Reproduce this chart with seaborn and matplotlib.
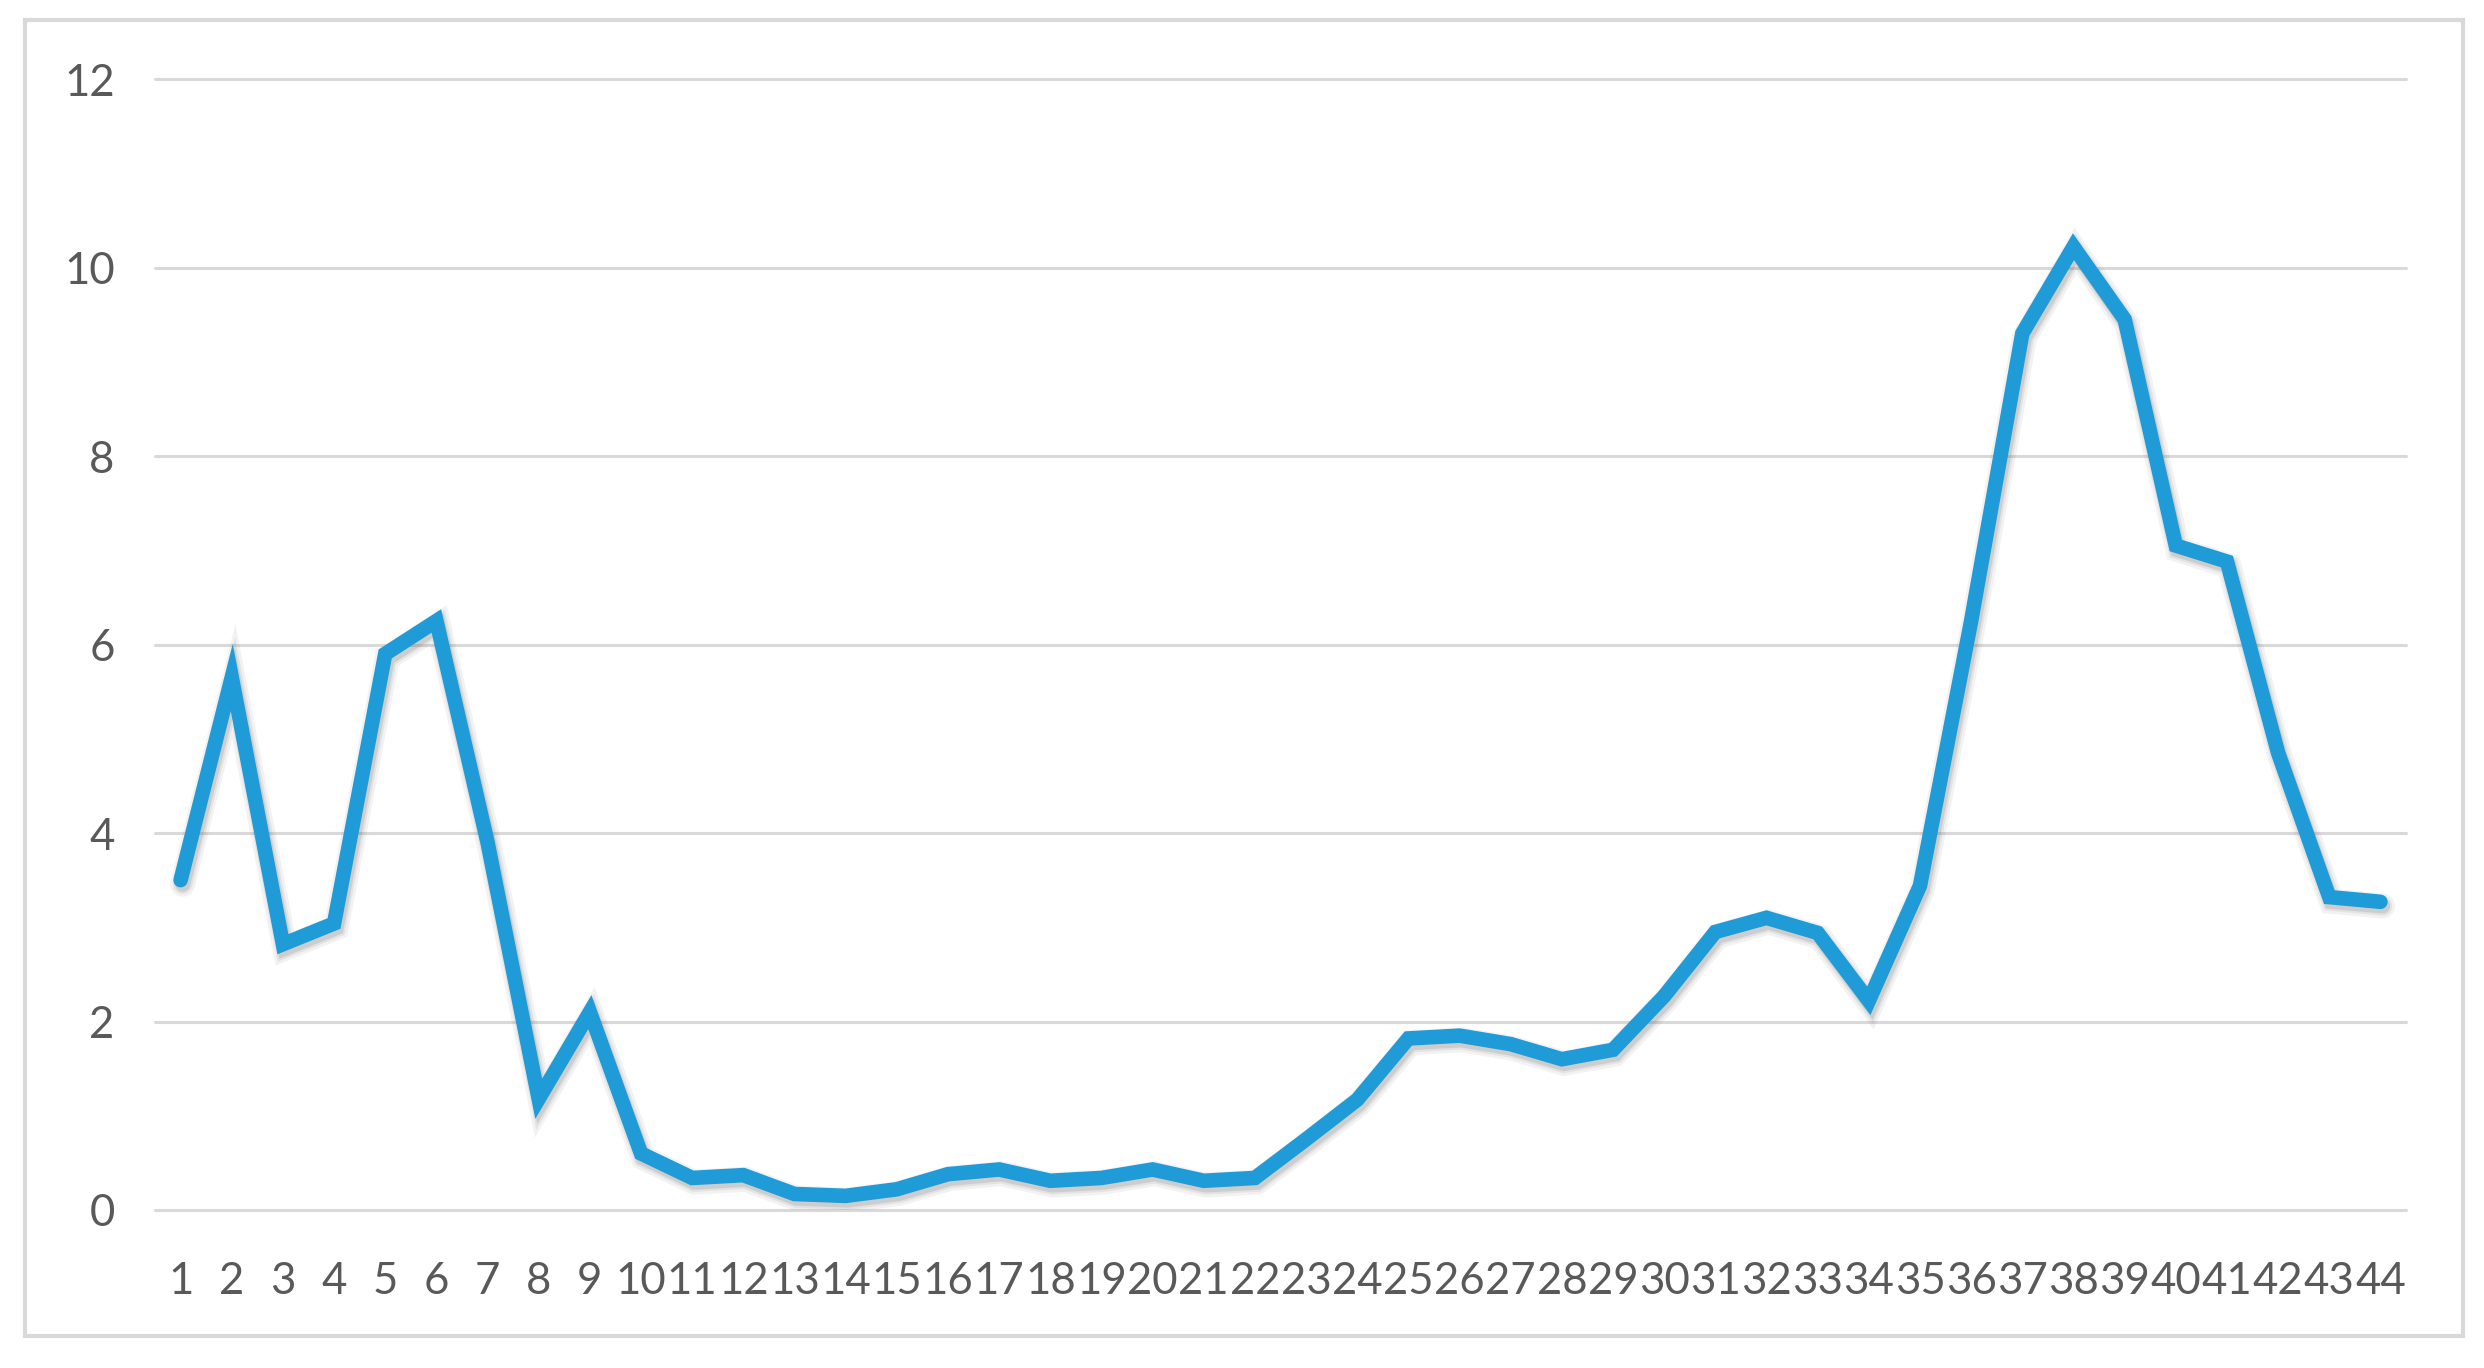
import numpy as np
import pandas as pd
import matplotlib
matplotlib.use("Agg")
import matplotlib.pyplot as plt
import matplotlib.patheffects as pe
from matplotlib.patches import Rectangle
import seaborn as sns

# ---- data ----
categories = [str(i) for i in range(1, 45)]
values = [3.5, 5.65, 2.82, 3.04, 5.9, 6.25, 3.9, 1.18, 2.1, 0.6,
          0.34, 0.37, 0.17, 0.15, 0.22, 0.38, 0.43, 0.31, 0.34, 0.43,
          0.31, 0.34, 0.75, 1.17, 1.82, 1.85, 1.76, 1.6, 1.7, 2.27,
          2.95, 3.1, 2.94, 2.22, 3.44, 6.25, 9.3, 10.22, 9.45, 7.05,
          6.88, 4.85, 3.32, 3.27]
y_ticks = [0, 2, 4, 6, 8, 10, 12]

df = pd.DataFrame({"idx": np.arange(len(categories)), "value": values})

sns.set_theme(style="white")
plt.rcParams["font.family"] = ["Lato", "DejaVu Sans"]

fig = plt.figure(figsize=(24.84, 13.68), dpi=100)
fig.patch.set_facecolor("white")

# outer chart border
fig.patches.append(Rectangle((25 / 2484, 1 - 1336 / 1368), (2463 - 25) / 2484, (1336 - 20) / 1368,
                             transform=fig.transFigure, fill=False,
                             edgecolor="#D9D9D9", linewidth=3, zorder=0))

ax = fig.add_axes([155 / 2484, 1 - 1210 / 1368, (2406 - 155) / 2484, (1210 - 79) / 1368])
ax.set_facecolor("white")

line_color = "#1F9BD7"
sns.lineplot(data=df, x="idx", y="value", ax=ax, color=line_color,
             linewidth=10.5, zorder=3, solid_joinstyle="miter", solid_capstyle="round")
ln = ax.get_lines()[0]
ln.set_path_effects([
    pe.SimpleLineShadow(offset=(1.5, -3), shadow_color="#808080", alpha=0.10, linewidth=18),
    pe.SimpleLineShadow(offset=(1.5, -3), shadow_color="#808080", alpha=0.13, linewidth=14),
    pe.SimpleLineShadow(offset=(1.5, -3), shadow_color="#606060", alpha=0.16, linewidth=11),
    pe.Normal(),
])

ax.set_xlim(-0.5, len(categories) - 0.5)
ax.set_ylim(0, 12)
ax.set_xticks(np.arange(len(categories)))
ax.set_xticklabels(categories)
ax.set_yticks(y_ticks)
ax.set_yticklabels([str(t) for t in y_ticks])

ax.grid(axis="y", color="#D9D9D9", linewidth=2.2)
ax.grid(axis="x", visible=False)
for gl in ax.get_ygridlines():
    gl.set_clip_on(False)
ax.set_axisbelow(True)

for s in ax.spines.values():
    s.set_visible(False)

ax.tick_params(axis="x", length=0, pad=37, labelsize=31.5, labelcolor="#595959")
ax.tick_params(axis="y", length=0, pad=29, labelsize=31.5, labelcolor="#595959")
ax.set_xlabel("")
ax.set_ylabel("")

fig.savefig("out.png", dpi=100, facecolor="white")
